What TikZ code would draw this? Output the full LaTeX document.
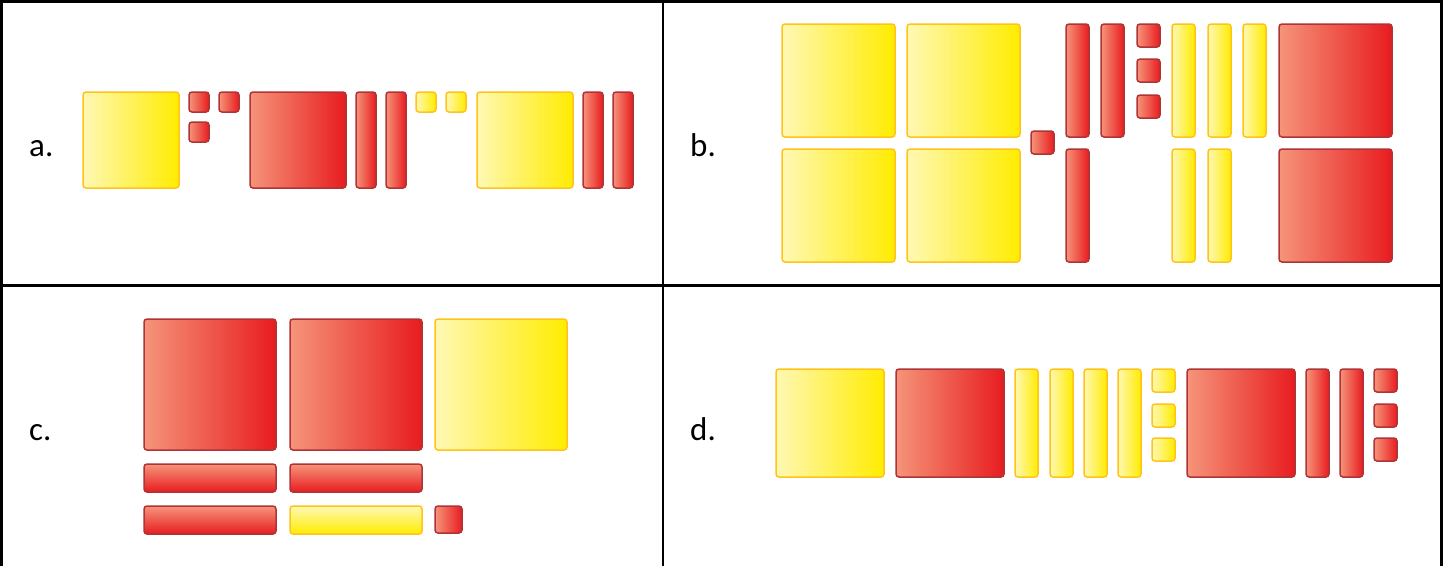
\documentclass[tikz,border=0pt]{standalone}
\usepackage{fontspec}
\setmainfont{Carlito}
\definecolor{yl}{HTML}{FFF8B4}
\definecolor{yr}{HTML}{FFEC00}
\definecolor{yb}{HTML}{FFC41A}
\definecolor{rl}{HTML}{F59479}
\definecolor{rr}{HTML}{E81C20}
\definecolor{rb}{HTML}{AE3436}
\tikzset{
  tile/.style={rounded corners=3pt, line width=1.5pt, inner sep=0pt, outer sep=0pt, anchor=north west},
  ytile/.style={tile, draw=yb, left color=yl, right color=yr},
  rtile/.style={tile, draw=rb, left color=rl, right color=rr},
  yflat/.style={tile, draw=yb, top color=yl, bottom color=yr},
  rflat/.style={tile, draw=rb, top color=rl, bottom color=rr},
  grid/.style={line width=2.6pt, black},
  lbl/.style={font=\fontsize{33}{36}\selectfont, anchor=base west, inner sep=0pt}
}
\newcommand\tilebox[6]{\node[#2, minimum width=#5pt, minimum height=#6pt] (#1) at (#3,#4) {};}
\begin{document}
\begin{tikzpicture}[x=1pt,y=-1pt]
\useasboundingbox (0,0) rectangle (1445,566);
\fill[white] (0,0) rectangle (1445,566);
% grid (bottom edge lies below the picture)
\coordinate (bl) at (1.3,566); \coordinate (tl) at (1.3,1.3);
\coordinate (tr) at (1441.3,1.3); \coordinate (br) at (1441.3,566);
\draw[grid] (bl) -- (tl) -- (tr) -- (br);
\coordinate (vt) at (663,0); \coordinate (vb) at (663,566);
\coordinate (hl) at (0,285.5); \coordinate (hr) at (1441,285.5);
\draw[grid] (vt) -- (vb);
\draw[grid] (hl) -- (hr);
% labels
\node[lbl] (la) at (29,156) {a.};
\node[lbl] (lb) at (690,156) {b.};
\node[lbl] (lc) at (29,440) {c.};
\node[lbl] (ld) at (690,440) {d.};
% panel a
\tilebox{a1}{ytile}{83}{92}{96}{96}
\tilebox{a2}{rtile}{189}{92}{20}{20}
\tilebox{a3}{rtile}{219}{92}{20}{20}
\tilebox{a4}{rtile}{189}{122}{20}{20}
\tilebox{a5}{rtile}{250}{92}{96}{96}
\tilebox{a6}{rtile}{356}{92}{20}{96}
\tilebox{a7}{rtile}{386}{92}{20}{96}
\tilebox{a8}{ytile}{416}{92}{20}{20}
\tilebox{a9}{ytile}{446}{92}{20}{20}
\tilebox{a10}{ytile}{477}{92}{96}{96}
\tilebox{a11}{rtile}{583}{92}{20}{96}
\tilebox{a12}{rtile}{613}{92}{20}{96}
% panel b
\tilebox{b1}{ytile}{782}{24}{113}{113}
\tilebox{b2}{ytile}{907}{24}{113}{113}
\tilebox{b3}{ytile}{782}{149}{113}{113}
\tilebox{b4}{ytile}{907}{149}{113}{113}
\tilebox{b5}{rtile}{1031}{131}{23}{23}
\tilebox{b6}{rtile}{1066}{24}{23}{113}
\tilebox{b7}{rtile}{1101}{24}{23}{113}
\tilebox{b8}{rtile}{1137}{24}{23}{23}
\tilebox{b9}{rtile}{1137}{59}{23}{23}
\tilebox{b10}{rtile}{1137}{95}{23}{23}
\tilebox{b11}{ytile}{1172}{24}{23}{113}
\tilebox{b12}{ytile}{1208}{24}{23}{113}
\tilebox{b13}{ytile}{1243}{24}{23}{113}
\tilebox{b14}{rtile}{1279}{24}{113}{113}
\tilebox{b15}{rtile}{1279}{149}{113}{113}
\tilebox{b16}{rtile}{1066}{149}{23}{113}
\tilebox{b17}{ytile}{1172}{149}{23}{113}
\tilebox{b18}{ytile}{1208}{149}{23}{113}
% panel c
\tilebox{c1}{rtile}{144}{319}{132}{131}
\tilebox{c2}{rtile}{290}{319}{132}{131}
\tilebox{c3}{ytile}{435}{319}{132}{131}
\tilebox{c4}{rflat}{144}{464}{132}{28}
\tilebox{c5}{rflat}{290}{464}{132}{28}
\tilebox{c6}{rflat}{144}{506}{132}{28}
\tilebox{c7}{yflat}{290}{506}{132}{28}
\tilebox{c8}{rtile}{435}{506}{27}{27}
% panel d
\tilebox{d1}{ytile}{776}{369}{108}{108}
\tilebox{d2}{rtile}{896}{369}{108}{108}
\tilebox{d3}{ytile}{1015}{369}{23}{108}
\tilebox{d4}{ytile}{1050}{369}{23}{108}
\tilebox{d5}{ytile}{1084}{369}{23}{108}
\tilebox{d6}{ytile}{1118}{369}{23}{108}
\tilebox{d7}{ytile}{1152}{369}{23}{23}
\tilebox{d8}{ytile}{1152}{404}{23}{23}
\tilebox{d9}{ytile}{1152}{438}{23}{23}
\tilebox{d10}{rtile}{1187}{369}{108}{108}
\tilebox{d11}{rtile}{1306}{369}{23}{108}
\tilebox{d12}{rtile}{1340}{369}{23}{108}
\tilebox{d13}{rtile}{1374}{369}{23}{23}
\tilebox{d14}{rtile}{1374}{404}{23}{23}
\tilebox{d15}{rtile}{1374}{438}{23}{23}
\end{tikzpicture}
\end{document}
